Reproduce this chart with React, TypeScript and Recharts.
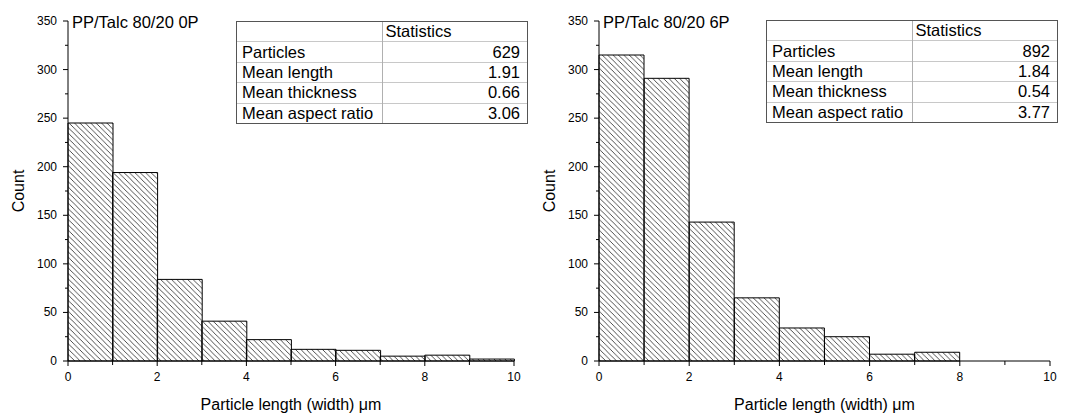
import React from "react";
import { BarChart, Bar, XAxis, YAxis, Label } from "recharts";

// histogram bins (µm)
const BINS = ["0-1", "1-2", "2-3", "3-4", "4-5", "5-6", "6-7", "7-8", "8-9", "9-10"];
const BIN_START = [0, 1, 2, 3, 4, 5, 6, 7, 8, 9];
const COUNTS_0P = [245, 194, 84, 41, 22, 12, 11, 5, 6, 2];
const COUNTS_6P = [315, 291, 143, 65, 34, 25, 7, 9, 0, 0];

const X_TICKS = [0, 1, 2, 3, 4, 5, 6, 7, 8, 9, 10];
const Y_TICKS = [0, 25, 50, 75, 100, 125, 150, 175, 200, 225, 250, 275, 300, 325, 350];

const STAT_LABELS = ["Particles", "Mean length", "Mean thickness", "Mean aspect ratio"];
const STATS_0P = ["629", "1.91", "0.66", "3.06"];
const STATS_6P = ["892", "1.84", "0.54", "3.77"];

const FONT = "Arial, 'Liberation Sans', Helvetica, sans-serif";

function YTick(props: any) {
  const { x, y, payload } = props;
  const major = payload.value % 50 === 0;
  return (
    <g>
      <line x1={x} x2={x - (major ? 5 : 3)} y1={y} y2={y} stroke="#000" strokeWidth={1} />
      {major && (
        <text x={x - 11} y={y} textAnchor="end" dominantBaseline="central"
          fontSize={12} fontFamily={FONT} fill="#000">
          {payload.value}
        </text>
      )}
    </g>
  );
}

function XTick(props: any) {
  const { x, y, payload } = props;
  const major = payload.value % 2 === 0;
  return (
    <g>
      <line x1={x} x2={x} y1={y} y2={y + (major ? 5 : 4)} stroke="#000" strokeWidth={1} />
      {major && (
        <text x={x} y={y + 16} textAnchor="middle" dominantBaseline="central"
          fontSize={12} fontFamily={FONT} fill="#000">
          {payload.value}
        </text>
      )}
    </g>
  );
}

function StatsTable({ values, left, top }: { values: string[]; left: number; top: number }) {
  const cell = (i: number, first: boolean): React.CSSProperties => ({
    height: 19.4,
    padding: "0 5px",
    borderTop: i > 0 ? "1px solid #c8c8c8" : "none",
    borderLeft: first ? "none" : "1px solid #b0b0b0",
    lineHeight: "19px",
    whiteSpace: "nowrap",
  });
  return (
    <div style={{
      position: "absolute", left, top, width: 290, border: "1px solid #555",
      background: "#fff", fontFamily: FONT, fontSize: 16.5, color: "#000",
    }}>
      <table style={{ borderCollapse: "collapse", width: "100%", tableLayout: "fixed" }}>
        <tbody>
          <tr>
            <td style={cell(0, true)}></td>
            <td style={{ ...cell(0, false), paddingLeft: 3 }}>Statistics</td>
          </tr>
          {STAT_LABELS.map((l, i) => (
            <tr key={l}>
              <td style={cell(i + 1, true)}>{l}</td>
              <td style={{ ...cell(i + 1, false), textAlign: "right", paddingRight: 7 }}>{values[i]}</td>
            </tr>
          ))}
        </tbody>
      </table>
    </div>
  );
}

function Histogram({ counts, title, pid, width, rightMargin }: {
  counts: number[]; title: string; pid: string; width: number; rightMargin: number;
}) {
  const data = BINS.map((b, i) => ({ bin: b, start: BIN_START[i], count: counts[i] }));
  return (
    <BarChart width={width} height={416} data={data} barCategoryGap={0} barGap={0}
      margin={{ top: 21, right: rightMargin, bottom: 5, left: 0 }}>
      <defs>
        <pattern id={pid} patternUnits="userSpaceOnUse" width={5.4} height={5.4}>
          <path d="M0,0 L5.4,5.4 M-1,4.4 L1,6.4 M4.4,-1 L6.4,1" stroke="#222" strokeWidth={0.8} />
        </pattern>
      </defs>
      <XAxis xAxisId="cat" dataKey="bin" hide height={0} />
      <YAxis domain={[0, 350]} ticks={Y_TICKS} interval={0} width={68} tickSize={0}
        tickMargin={0} tickLine={false} axisLine={{ stroke: "#000" }} tick={<YTick />}>
        <Label content={({ viewBox }: any) => {
          const cx = viewBox.x + 18;
          const cy = viewBox.y + viewBox.height / 2;
          return (
            <text x={cx} y={cy} transform={`rotate(-90 ${cx} ${cy})`} textAnchor="middle"
              dominantBaseline="central" fontSize={16} fontFamily={FONT} fill="#000">
              Count
            </text>
          );
        }} />
        <Label content={({ viewBox }: any) => (
          <text x={viewBox.x + viewBox.width + 4} y={viewBox.y + 7} fontSize={16.5}
            fontFamily={FONT} fill="#000">
            {title}
          </text>
        )} />
      </YAxis>
      <Bar xAxisId="cat" dataKey="count" fill={`url(#${pid})`} stroke="#000" strokeWidth={1}
        isAnimationActive={false} />
      <XAxis xAxisId="num" dataKey="start" type="number" domain={[0, 10]} ticks={X_TICKS}
        interval={0} allowDataOverflow height={50} tickSize={0} tickMargin={0} tickLine={false}
        axisLine={{ stroke: "#000" }} tick={<XTick />}>
        <Label content={({ viewBox }: any) => (
          <text x={viewBox.x + viewBox.width / 2} y={viewBox.y + 49} textAnchor="middle"
            fontSize={16} fontFamily={FONT} fill="#000">
            Particle length (width) μm
          </text>
        )} />
      </XAxis>
    </BarChart>
  );
}

export default function App() {
  return (
    <div style={{ position: "absolute", left: 0, top: 0, width: 1074, height: 416, background: "#fff" }}>
      <div style={{ position: "absolute", left: 0, top: 0 }}>
        <Histogram counts={COUNTS_0P} title="PP/Talc 80/20 0P" pid="hatch0" width={540} rightMargin={26} />
      </div>
      <div style={{ position: "absolute", left: 531, top: 0 }}>
        <Histogram counts={COUNTS_6P} title="PP/Talc 80/20 6P" pid="hatch6" width={543} rightMargin={24} />
      </div>
      <StatsTable values={STATS_0P} left={236} top={21} />
      <StatsTable values={STATS_6P} left={766} top={20} />
    </div>
  );
}
